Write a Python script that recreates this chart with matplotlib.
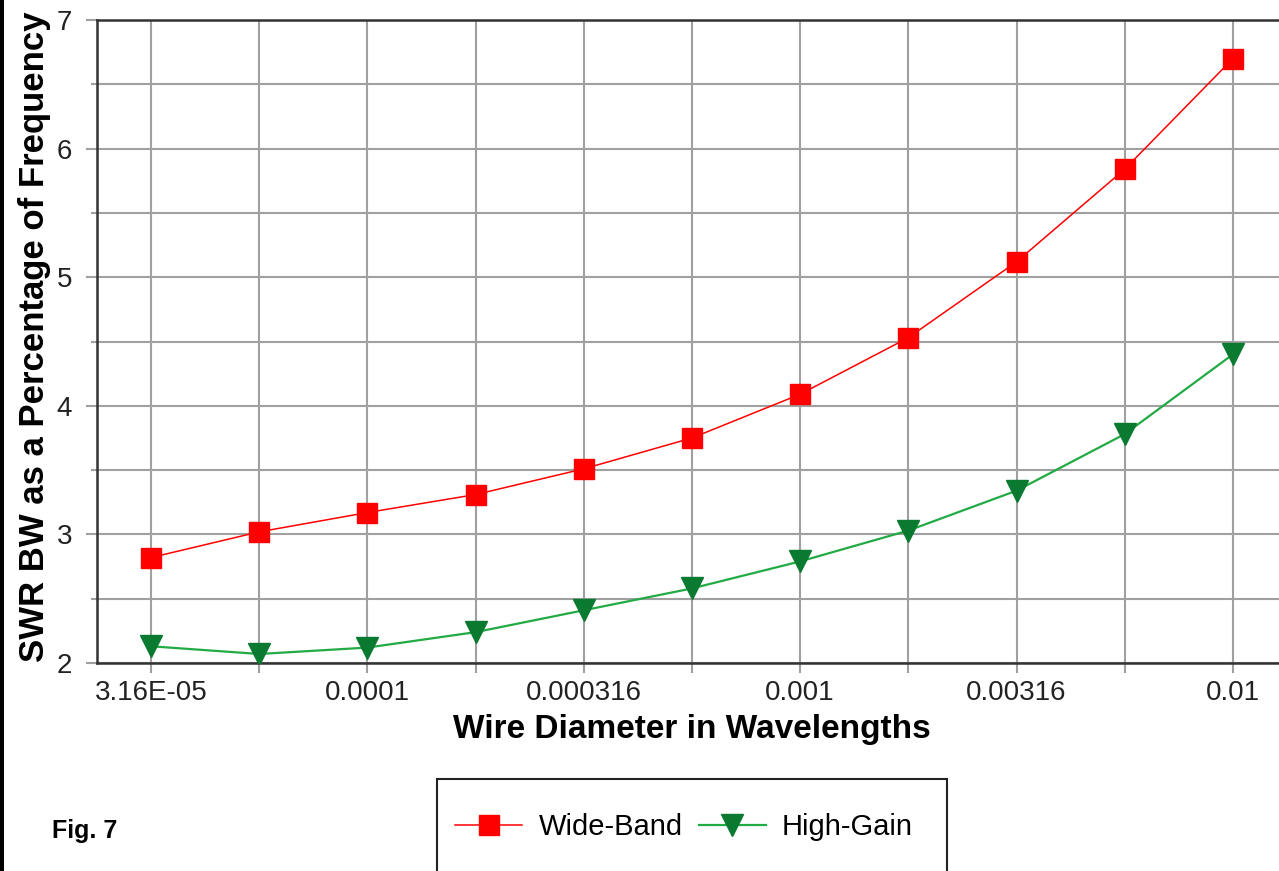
import matplotlib.pyplot as plt
from matplotlib.patches import Rectangle

diameters = ["3.16E-05", "5.62E-05", "0.0001", "0.000178", "0.000316", "0.000562",
             "0.001", "0.00178", "0.00316", "0.00562", "0.01"]
shown_labels = ["3.16E-05", "", "0.0001", "", "0.000316", "", "0.001", "", "0.00316", "", "0.01"]
wide_band = [2.82, 3.02, 3.17, 3.31, 3.51, 3.75, 4.09, 4.53, 5.12, 5.84, 6.70]
high_gain = [2.13, 2.07, 2.12, 2.24, 2.41, 2.58, 2.79, 3.03, 3.34, 3.78, 4.40]

plt.rcParams['font.family'] = ['Liberation Sans', 'DejaVu Sans']

W, H = 1279, 871
fig = plt.figure(figsize=(W / 100, H / 100), dpi=100)
ax = fig.add_axes([97 / W, 1 - 663 / H, (1287 - 97) / W, (663 - 20) / H])

x = list(range(len(diameters)))
ax.plot(x, wide_band, color='#ff0000', lw=1.1, marker='s', ms=14,
        markeredgecolor='#ff0000', label='Wide-Band', zorder=3)
ax.plot(x, high_gain, color='#22aa44', lw=1.6, marker='v', ms=16,
        markerfacecolor='#0a7a30', markeredgecolor='#0a7a30', label='High-Gain', zorder=3)

ax.set_xlim(-0.5, 10.5)
ax.set_ylim(2, 7)
ax.set_xticks(x)
ax.set_xticklabels(shown_labels)
ax.set_yticks([2, 3, 4, 5, 6, 7])
ax.set_yticks([2.5, 3.5, 4.5, 5.5, 6.5], minor=True)

ax.grid(True, which='both', color='#a0a0a0', lw=1.5)
ax.set_axisbelow(True)

for side in ['left', 'bottom', 'top']:
    ax.spines[side].set_color('#333333')
    ax.spines[side].set_linewidth(1.8)
ax.spines['right'].set_visible(False)

ax.tick_params(axis='y', which='major', length=8, width=1.5, color='#a0a0a0',
               labelsize=20, labelcolor='#222222', pad=10)
ax.tick_params(axis='y', which='minor', length=4, width=1.5, color='#a0a0a0')
ax.tick_params(axis='x', length=7, width=1.5, color='#a0a0a0',
               labelsize=20, labelcolor='#222222', pad=5)

ax.set_xlabel('Wire Diameter in Wavelengths', fontsize=24, fontweight='bold', labelpad=6)
fig.text(35 / W, 1 - 337 / H, 'SWR BW as a Percentage of Frequency', rotation=90,
         fontsize=25, fontweight='bold', ha='center', va='center')

fig.text(52 / W, 1 - 831 / H, 'Fig. 7', fontsize=18, fontweight='bold', ha='left', va='center')

fig.add_artist(Rectangle((437 / W, -0.02), (947 - 437) / W, (871 - 779) / H + 0.02,
                         transform=fig.transFigure, fill=False, edgecolor='#222222', lw=1.5))
fig.legend(loc='center', bbox_to_anchor=(684 / W, 1 - 827 / H), ncol=2, frameon=False,
           fontsize=21, handlelength=2.3, columnspacing=0.55, handletextpad=0.55)

fig.add_artist(Rectangle((0, 0), 4 / W, 1, transform=fig.transFigure,
                         color='black', lw=0))

fig.savefig('out.png', dpi=100)
